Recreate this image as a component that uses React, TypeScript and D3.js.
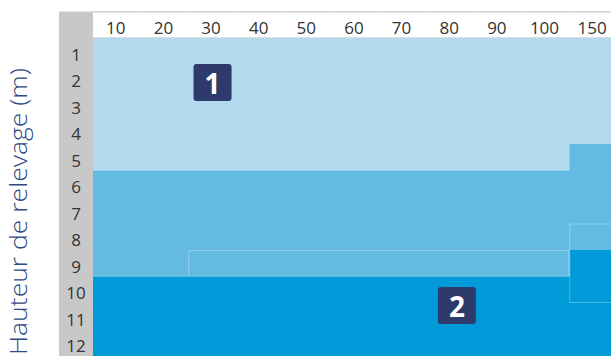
import React from "react";
import * as d3 from "d3";

const columns = ["10", "20", "30", "40", "50", "60", "70", "80", "90", "100", "150"];
const rows = [1, 2, 3, 4, 5, 6, 7, 8, 9, 10, 11, 12];
// last row (inclusive) of zone 1 and zone 2 for each column
const zone1Last = [5, 5, 5, 5, 5, 5, 5, 5, 5, 5, 4];
const zone2Last = [9, 9, 9, 9, 9, 9, 9, 9, 9, 9, 8];
// outlined blocks: [firstCol, lastCol, firstRow, lastRow, drawBottom]
const outlines = [
  ["30", "100", 9, 9, false],
  ["150", "150", 8, 10, true],
] as const;
const badges = [
  { label: "1", col: 2.51, row: 1.675 },
  { label: "2", col: 7.64, row: 10.09 },
];
const axisTitle = "Hauteur de relevage (m)";

const W = 611;
const H = 356;
const COLORS = ["#b3d9ee", "#63bbe2", "#009ad8"];

export default function App() {
  const left = 93;
  const colW = 47.63;
  const top = 38;
  const x = d3.scaleBand<string>().domain(columns).range([left, left + colW * columns.length]);
  const y = d3.scaleBand<number>().domain(rows).range([top, 356]);
  const xl = d3.scaleLinear().domain([0, columns.length]).range(x.range());
  const yl = d3.scaleLinear().domain([0, rows.length]).range(y.range());
  const bw = x.bandwidth();
  const bh = y.bandwidth();
  const font = "'Open Sans', 'Noto Sans', sans-serif";
  const line = d3.line();

  // zone boundaries in row units (row index after which zone ends)
  const bounds = [
    columns.map(() => 0),
    zone1Last,
    zone2Last,
    columns.map(() => rows.length),
  ];
  const zonePath = (k: number) => {
    const topB = bounds[k];
    const botB = bounds[k + 1];
    const pts: [number, number][] = [];
    columns.forEach((_, i) => {
      pts.push([xl(i), yl(topB[i])]);
      pts.push([xl(i + 1), yl(topB[i])]);
    });
    for (let i = columns.length - 1; i >= 0; i--) {
      pts.push([xl(i + 1), yl(botB[i])]);
      pts.push([xl(i), yl(botB[i])]);
    }
    return line(pts) + "Z";
  };

  return (
    <svg width={W} height={H} style={{ position: "absolute", left: 0, top: 0, display: "block" }}>
      <rect x={0} y={0} width={W} height={H} fill="#ffffff" />
      {/* gray row-label column */}
      <rect x={59} y={11.5} width={left - 59} height={H - 11.5} fill="#c8c8c9" />
      {/* header */}
      <rect x={left} y={11} width={W - left} height={1.5} fill="#cfcfd1" />
      <rect x={left} y={37.3} width={W - left} height={1.2} fill="#cfcfd1" />
      {columns.slice(1).map((c) => (
        <rect key={"sep" + c} x={x(c)! - 0.5} y={11} width={1} height={1.5} fill="#eeeeee" />
      ))}
      {columns.map((c) => (
        <text
          key={"h" + c}
          x={x(c)! + bw / 2 - 1}
          y={27.5}
          textAnchor="middle"
          dominantBaseline="central"
          fontFamily={font}
          fontSize={17}
          fill="#333333"
        >
          {c}
        </text>
      ))}
      {[0, 1, 2].map((k) => (
        <path key={"z" + k} d={zonePath(k)} fill={COLORS[k]} />
      ))}
      {outlines.map(([c0, c1, r0, r1, bottom], i) => {
        const x0 = x(c0)! + 0.5;
        const x1 = x(c1)! + bw - 0.5;
        const y0 = y(r0)! + 0.5;
        const y1 = y(r1)! + bh - 0.5;
        const pts: [number, number][] = bottom
          ? [[x0, y1], [x0, y0], [x1, y0], [x1, y1], [x0, y1]]
          : [[x0, y1], [x0, y0], [x1, y0], [x1, y1]];
        return (
          <path
            key={"o" + i}
            d={line(pts)!}
            fill="none"
            stroke="rgba(255,255,255,0.3)"
            strokeWidth={1}
          />
        );
      })}
      {rows.map((r) => (
        <text
          key={"r" + r}
          x={76}
          y={y(r)! + bh / 2 + 3}
          textAnchor="middle"
          dominantBaseline="central"
          fontFamily={font}
          fontSize={17}
          fill="#333333"
        >
          {r}
        </text>
      ))}
      {badges.map((b) => {
        const cx = xl(b.col);
        const cy = yl(b.row);
        return (
          <g key={"b" + b.label}>
            <rect x={cx - 19} y={cy - 18.5} width={38} height={37} rx={3} fill="#2d3a6b" />
            <text
              x={cx}
              y={cy + 1}
              textAnchor="middle"
              dominantBaseline="central"
              fontFamily={font}
              fontWeight={700}
              fontSize={28}
              fill="#ffffff"
            >
              {b.label}
            </text>
          </g>
        );
      })}
      <text
        transform={`translate(27,${H - 1}) rotate(-90)`}
        textAnchor="start"
        fontFamily={font}
        fontWeight={300}
        fontSize={23}
        textLength={287}
        lengthAdjust="spacingAndGlyphs"
        fill="#2e4a82"
      >
        {axisTitle}
      </text>
    </svg>
  );
}
